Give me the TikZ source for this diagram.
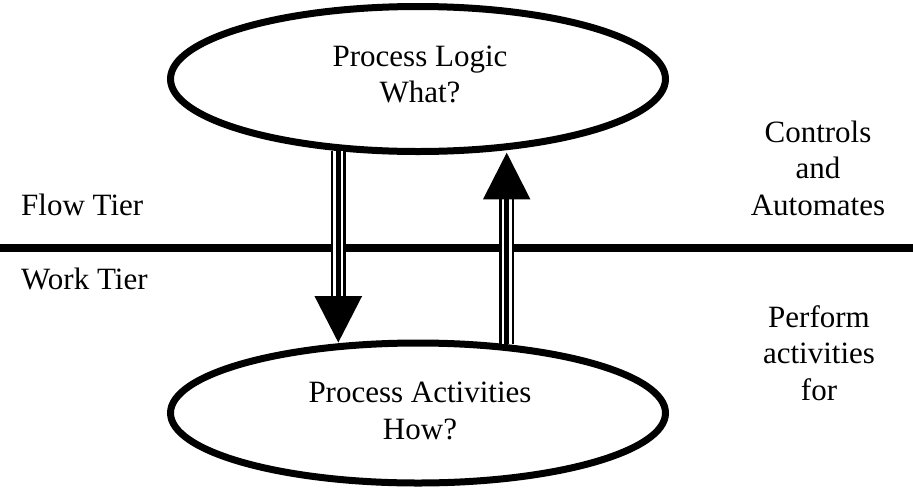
\documentclass[tikz,border=0pt]{standalone}
\usepackage{fontspec}
\setmainfont{Liberation Serif}
\usetikzlibrary{shapes.geometric}
\begin{document}
\begin{tikzpicture}[x=1pt,y=-1pt,
  txt/.style={inner sep=0pt, align=center, font=\fontsize{31}{36.5}\selectfont},
  tierlabel/.style={txt, anchor=base west},
  process/.style={ellipse, draw, line width=7pt, inner sep=0pt,
                  minimum width=495pt, minimum height=145pt},
  tierline/.style={line width=8pt},
  triple/.style={line width=15.5pt, draw=black,
                 postaction={draw=white, line width=10pt},
                 postaction={draw=black, line width=4.5pt}},
  head/.style={fill=black}
]
\useasboundingbox (0,0) rectangle (913,488);

% the two process ellipses
\node[process] (logic) at (418,79) {};
\node[process, minimum height=140pt] (activities) at (418,413) {};
\node[txt] (logictext) at (420,74.5) {Process Logic\\What?};
\node[txt] (activitiestext) at (420,410.9) {Process Activities\\How?};

% tier boundary
\coordinate (lineL) at (0,247.5);
\coordinate (lineR) at (913,247.5);
\draw[tierline] (lineL) -- (lineR);

% tier names
\node[tierlabel] (flow) at (21,215) {Flow Tier};
\node[tierlabel] (work) at (21,289) {Work Tier};

% roles on the right
\node[txt] (controls) at (818,167.9) {Controls\\and\\Automates};
\node[txt] (perform) at (819,352.9) {Perform\\activities\\for};

% downward arrow: logic to activities
\coordinate (downStart) at (338.3,151);
\coordinate (downBase) at (338.3,296);
\coordinate (downTip) at (338.3,342.5);
\draw[triple] (downStart) -- (downBase);
\fill[head] (downTip) -- ++(-23.85,-46.5) -- ++(47.7,0) -- cycle;

% upward arrow: activities to logic
\coordinate (upStart) at (506.7,344);
\coordinate (upBase) at (506.7,199.3);
\coordinate (upTip) at (506.7,152.7);
\draw[triple] (upStart) -- (upBase);
\fill[head] (upTip) -- ++(-23.7,46.6) -- ++(47.4,0) -- cycle;
\end{tikzpicture}
\end{document}
